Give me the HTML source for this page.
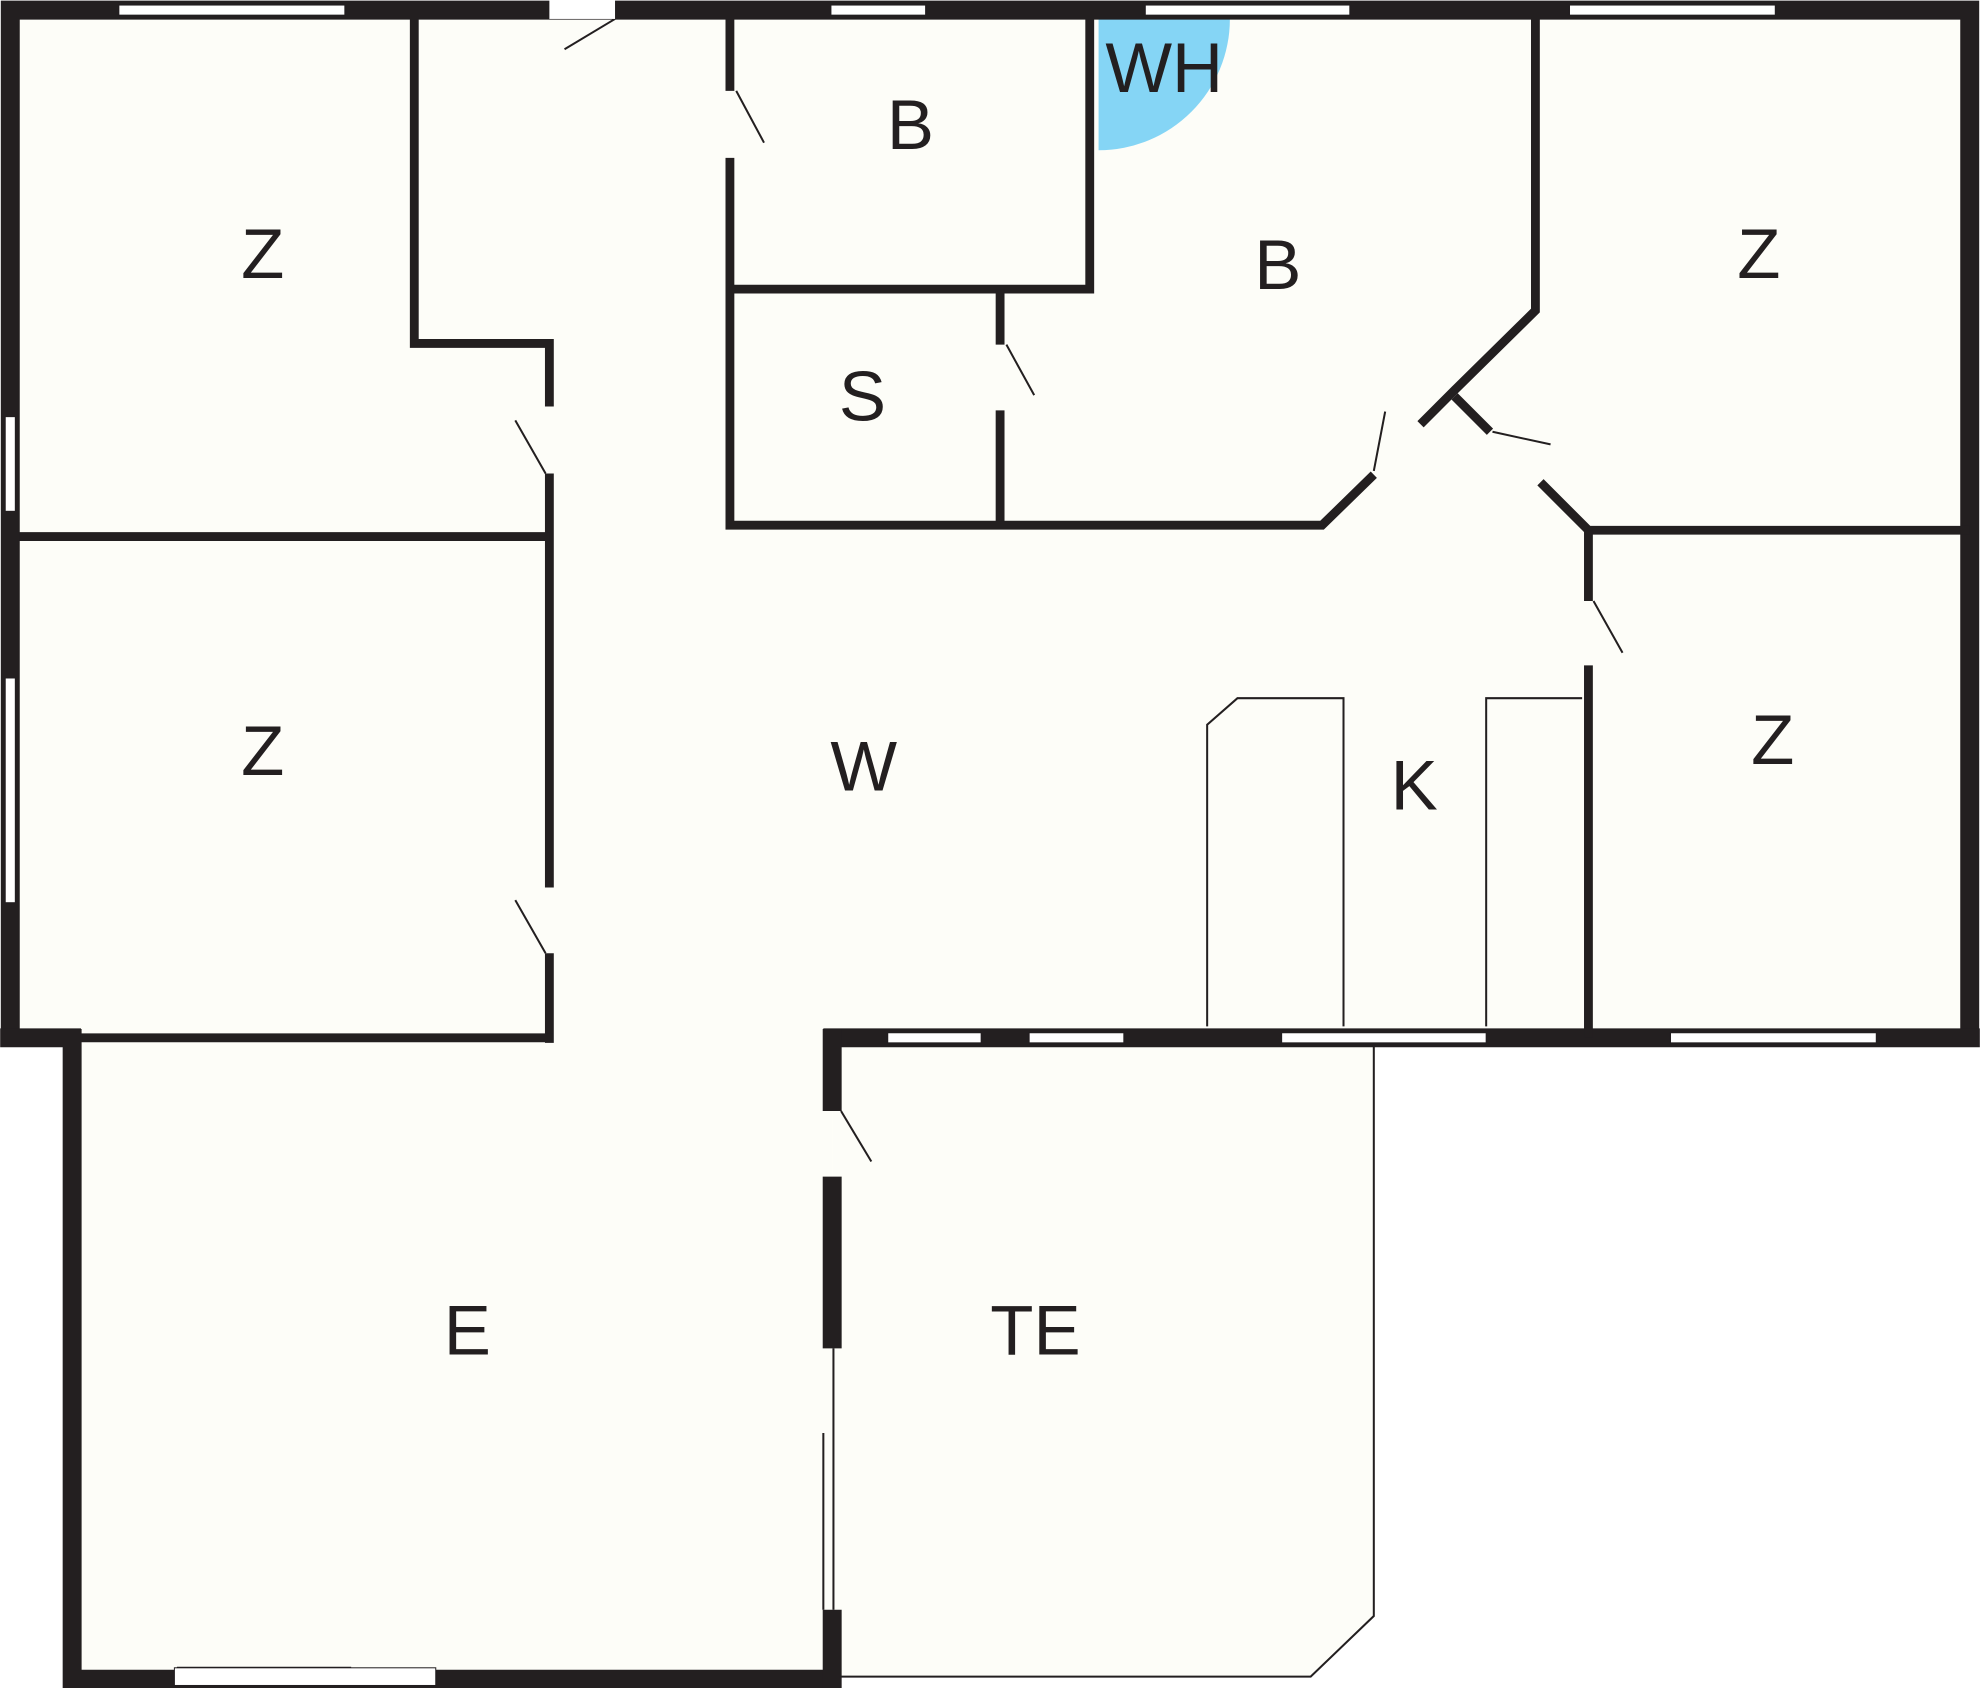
<!DOCTYPE html>
<html><head><meta charset="utf-8"><style>html,body{margin:0;padding:0;background:#fff}svg{display:block}</style></head>
<body>
<svg width="1980" height="1688" viewBox="0 0 1568 1337" xmlns="http://www.w3.org/2000/svg">
<rect width="1568" height="1337" fill="#fff"/>
<polygon points="8,8 1560,8 1560,822 659,822 659,1330 57,1330 57,822 8,822" fill="#fdfdf8"/>
<polygon points="659,822 1088,822 1088,1280 1038,1328 659,1328" fill="#fdfdf8"/>
<path d="M870,15 L974,15 A104,104 0 0 1 870,119 Z" fill="#85d5f5"/>
<g stroke="#231f20" fill="none" stroke-linecap="butt" stroke-linejoin="miter">
<path d="M8,829 V8 H1560 V829" stroke-width="15"/>
<path d="M652,822 H1568 M0,822 H64 M57,815 V1337 M50,1330 H666" stroke-width="15"/>
<path d="M659,815 V880 M659,932 V1068 M659,1275 V1337" stroke-width="15"/>
<g stroke-width="7">
<path d="M328,15 V272 H435 V322 M435,375 V703 M435,755 V826"/>
<path d="M15,425 H435"/>
<path d="M64,822 H438"/>
<path d="M578,15 V72 M578,125 V416 H1047 L1088,376"/>
<path d="M578,229 H863 V15"/>
<path d="M792,229 V273 M792,325 V413"/>
<path d="M1125,336 L1152,309 L1216,246 V15"/>
<path d="M1152,314 L1180,342 M1220,382 L1258,420 H1560"/>
<path d="M1258,420 V476 M1258,527 V822"/>
</g>
<g stroke-width="1.6">
<path d="M487,15 L447,39"/>
<path d="M408,333 L432,375 M408,713 L432,755"/>
<path d="M583,72 L605,113 M797,273 L819,313"/>
<path d="M1088,373 L1097,326 M1182,342 L1228,352 M1262,476 L1285,517"/>
<path d="M666,880 L690,920"/>
<path d="M956,813 V574 L980,553 H1064 V813 M1177,813 V553 H1253"/>
<path d="M1088,826 V1280 L1038,1328 H665"/>
<path d="M660,1068 V1275 M652,1135 V1275"/>
<path d="M140,1321 H278 M220,1328 H345"/>
</g>
</g>
<g fill="#fff" stroke="#231f20" stroke-width="0.8">
<rect x="94" y="4" width="179" height="8"/><rect x="658" y="4" width="75" height="8"/>
<rect x="907" y="4" width="162" height="8"/><rect x="1243" y="4" width="163" height="8"/>
<rect x="4" y="330" width="8" height="75"/><rect x="4" y="537" width="8" height="178"/>
<rect x="703" y="818" width="74" height="8"/><rect x="815" y="818" width="75" height="8"/>
<rect x="1015" y="818" width="162" height="8"/><rect x="1323" y="818" width="163" height="8"/>
<rect x="138" y="1321" width="207" height="14"/>
</g>
<rect x="435" y="0" width="52" height="15" fill="#fff"/>
<g font-family="Liberation Sans, sans-serif" font-size="56" fill="#231f20" text-anchor="middle">
<text x="208" y="220">Z</text><text x="208" y="614">Z</text>
<text x="721" y="118">B</text><text x="922" y="73">WH</text>
<text x="1012" y="229">B</text><text x="683" y="333">S</text>
<text x="1393" y="220">Z</text><text x="684" y="626">W</text>
<text x="1120" y="641">K</text><text x="1404" y="605">Z</text>
<text x="370" y="1073">E</text><text x="820" y="1073">TE</text>
</g>
</svg>
</body></html>
